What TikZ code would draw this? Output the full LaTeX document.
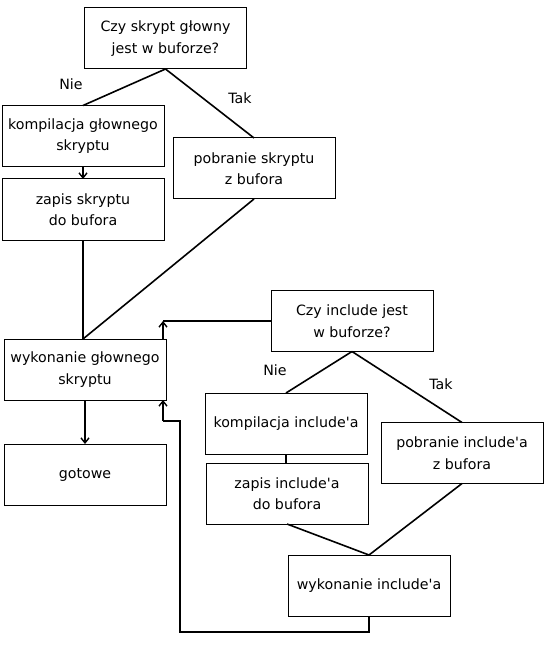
\documentclass[tikz,border=0pt]{standalone}
\usepackage{fontspec}
\setmainfont{DejaVu Sans}[Ligatures=TeXOff]
\usetikzlibrary{arrows.meta,calc}
\begin{document}
\begin{tikzpicture}[x=1pt,y=-1pt,
  box/.style={draw=black,line width=1pt,minimum width=162pt,minimum height=61pt,inner sep=0pt,outer sep=0pt,align=center,font=\fontsize{14.2}{21.5}\selectfont},
  conn/.style={line width=1.6pt},
  arr/.style={conn,-{Straight Barb[length=5pt,width=8pt,line width=1.4pt]}},
  lbl/.style={font=\fontsize{14.2}{16}\selectfont,inner sep=0pt}]
\useasboundingbox[fill=white] (0,0) rectangle (547,652);
\node[box] (A) at (165.5,38.5) {Czy skrypt głowny\\jest w buforze?};
\node[box] (B) at (83,136) {kompilacja głownego\\skryptu};
\node[box] (C) at (83,209.5) {zapis skryptu\\do bufora};
\node[box] (D) at (254,168.5) {pobranie skryptu\\z bufora};
\node[box] (E) at (85,369.5) {wykonanie głownego\\skryptu};
\node[box] (F) at (85,474.5) {gotowe};
\node[box] (G) at (352,321) {Czy include jest\\w buforze?};
\node[box] (H) at (286,423.5) {kompilacja include'a};
\node[box] (I) at (287,493.5) {zapis include'a\\do bufora};
\node[box] (J) at (462,453) {pobranie include'a\\z bufora};
\node[box] (K) at (369,585.5) {wykonanie include'a};
\node[lbl] (n1) at (71,84) {Nie};
\node[lbl] (t1) at (240,98) {Tak};
\node[lbl] (n2) at (275,370) {Nie};
\node[lbl] (t2) at (441,384) {Tak};
% upper part
\draw[conn] (A.south) -- (B.north);
\draw[conn] (A.south) -- (D.north);
\draw[arr] (B.south) -- (C.north);
\coordinate (etop) at (C.south |- E.north);
\draw[conn] (C.south) -- (etop);
\draw[conn] (D.south) -- (etop);
\draw[arr] (E.south) -- (F.north);
% link to include question
\coordinate (e1) at ($(E.north east)+(-3,0)$);
\coordinate (c1) at (e1 |- G.west);
\draw[arr] (e1) -- (c1);
\draw[conn] (c1) -- (G.west);
% include branch
\draw[conn] (G.south) -- (H.north);
\draw[conn] (G.south) -- (J.north);
\draw[conn] (H.south) -- (H.south |- I.north);
\draw[conn] (I.south) -- (K.north);
\draw[conn] (J.south) -- (K.north);
% return path
\coordinate (r1) at ($(K.south)+(0,16)$);
\coordinate (r2) at (180,632);
\coordinate (r3) at (180,421);
\coordinate (e2) at ($(E.south east)+(-3,0)$);
\coordinate (r4) at (e2 |- r3);
\draw[conn] (K.south) -- (r1) -- (r2) -- (r3) -- (r4);
\draw[arr] (r4) -- (e2);
\end{tikzpicture}
\end{document}
